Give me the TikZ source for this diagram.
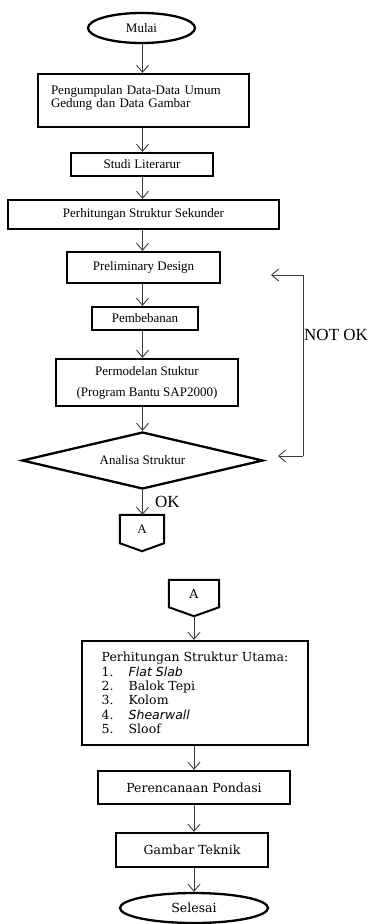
\documentclass[tikz,border=0pt]{standalone}
\usepackage{fontspec}
\setmainfont{Liberation Serif}
\newfontfamily\lowerfamily{DejaVu Serif}
\newfontfamily\itemfamily{DejaVu Sans}
\usetikzlibrary{shapes.geometric,arrows.meta,calc}
\definecolor{lineGray}{RGB}{60,60,60}
\newcommand\uppertext{\fontsize{13}{13.5}\selectfont}
\newcommand\lowertext{\lowerfamily\fontsize{12.5}{14.3}\selectfont}
\newcommand\itemno[1]{\makebox[27pt][l]{#1.}}

\begin{document}
\begin{tikzpicture}[x=1pt,y=-1pt,
    every node/.style={inner sep=0pt},
    procbox/.style={draw=black,line width=2.3pt,align=center,font=\uppertext},
    lowbox/.style={draw=black,line width=2.3pt,align=center,font=\lowertext},
    terminal/.style={ellipse,draw=black,line width=2.3pt},
    decision/.style={diamond,draw=black,line width=2.3pt,aspect=4.23,font=\uppertext},
    offpage/.style={minimum width=#1,minimum height=28pt},
    flow/.style={-{Straight Barb[length=7pt,width=12pt]},line width=0.9pt,draw=lineGray},
    note/.style={font=\fontsize{17}{19}\selectfont}
  ]
    \useasboundingbox (0,0) rectangle (371,924);
    \coordinate (spine) at (142.5,0);
    \coordinate (spinelow) at (194,0);

    % bagian atas
    \node[terminal,minimum width=107pt,minimum height=30pt,font=\uppertext] (mulai) at (141.5,28) {Mulai};
    \node[procbox,minimum width=211pt,minimum height=53pt,align=left,text width=185pt] (data) at (143.5,100.5)
      {Pengumpulan Data-Data Umum\\Gedung dan Data Gambar\\[-5pt]\mbox{}};
    \node[procbox,minimum width=142pt,minimum height=23pt] (studi) at (142,164.5) {Studi Literarur};
    \node[procbox,minimum width=271pt,minimum height=29pt] (sekunder) at (143.5,214.5) {Perhitungan Struktur Sekunder};
    \node[procbox,minimum width=153pt,minimum height=31pt] (prelim) at (143.5,267.5) {Preliminary Design};
    \node[procbox,minimum width=106pt,minimum height=23pt] (beban) at (145,318.5) {Pembebanan};
    \node[procbox,minimum width=182pt,minimum height=47pt,font=\fontsize{13}{21}\selectfont] (model) at (147,382.5)
      {Permodelan Stuktur\\(Program Bantu SAP2000)};
    \node[decision,minimum width=241pt,minimum height=57pt] (analisa) at (142.5,460.5) {Analisa Struktur};
    \node[offpage=44pt,font=\uppertext] (conA) at (142,529) {A};
    \coordinate (conAtip) at ($(conA.south)+(0,8)$);
    \draw[line width=2pt] (conA.north west) -- (conA.north east) -- (conA.south east)
      -- (conAtip) -- (conA.south west) -- cycle;
    \node[note,anchor=west] (ok) at (155,502) {OK};

    % loop NOT OK
    \coordinate (loopbot) at (303,456);
    \coordinate (looptop) at (303,275);
    \coordinate (tipbot) at (278,456);
    \coordinate (tiptop) at (271,275);
    \node[note,anchor=west] (notok) at (304,335) {NOT OK};

    \draw[flow] (mulai.south -| spine) -- (data.north -| spine);
    \draw[flow] (data.south -| spine) -- (studi.north -| spine);
    \draw[flow] (studi.south -| spine) -- (sekunder.north -| spine);
    \draw[flow] (sekunder.south -| spine) -- (prelim.north -| spine);
    \draw[flow] (prelim.south -| spine) -- (beban.north -| spine);
    \draw[flow] (beban.south -| spine) -- (model.north -| spine);
    \draw[flow] (model.south -| spine) -- (analisa.north);
    \draw[flow] (analisa.south) -- (conA.north -| analisa.south);
    \draw[flow] (loopbot) -- (tipbot);
    \draw[flow] (loopbot) -- (looptop) -- (tiptop);

    % bagian bawah
    \node[offpage=50pt,minimum height=27pt,font=\lowertext] (conB) at (194,593.5) {A};
    \coordinate (conBtip) at ($(conB.south)+(0,9)$);
    \draw[line width=2pt] (conB.north west) -- (conB.north east) -- (conB.south east)
      -- (conBtip) -- (conB.south west) -- cycle;
    \node[lowbox,minimum width=226pt,minimum height=104pt,align=left] (utama) at (195,693)
      {Perhitungan Struktur Utama:\\
       \itemno{1}{\itemfamily\itshape Flat Slab}\\
       \itemno{2}Balok Tepi\\
       \itemno{3}Kolom\\
       \itemno{4}{\itemfamily\itshape Shearwall}\\
       \itemno{5}Sloof};
    \node[lowbox,minimum width=192pt,minimum height=33pt] (pondasi) at (194,787.5) {Perencanaan Pondasi};
    \node[lowbox,minimum width=152pt,minimum height=34pt] (gambar) at (192,850) {Gambar Teknik};
    \node[terminal,minimum width=148pt,minimum height=30pt,font=\lowertext] (selesai) at (194,908) {Selesai};

    \draw[flow] (conBtip) -- (utama.north -| conBtip);
    \draw[flow] (utama.south -| spinelow) -- (pondasi.north -| spinelow);
    \draw[flow] (pondasi.south -| spinelow) -- (gambar.north -| spinelow);
    \draw[flow] (gambar.south -| spinelow) -- (selesai.north);
  \end{tikzpicture}
\end{document}
